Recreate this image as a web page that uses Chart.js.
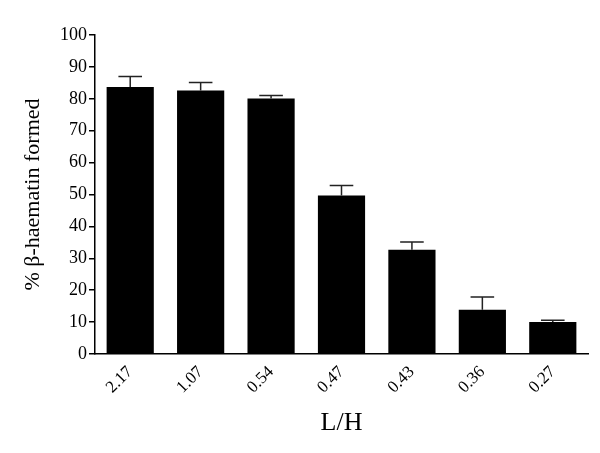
<!DOCTYPE html>
<html>
<head>
<meta charset="utf-8">
<script src="https://cdn.jsdelivr.net/npm/chart.js@4"></script>
<style>
  html, body { margin: 0; padding: 0; background: #fff; }
  #wrap { width: 600px; height: 453px; }
</style>
</head>
<body>
<div id="wrap"><canvas id="haematinChart" width="600" height="453"></canvas></div>
<script>
const categories = ['2.17', '1.07', '0.54', '0.47', '0.43', '0.36', '0.27'];
const formed = [83.7, 82.6, 80.1, 49.7, 32.7, 13.9, 10.0];
const errorUp = [3.3, 2.5, 0.9, 3.1, 2.4, 4.0, 0.6];
const yTicks = [0, 10, 20, 30, 40, 50, 60, 70, 80, 90, 100];

const serif = "'Liberation Serif', 'Times New Roman', Times, serif";

// draws the upward error bars with a cap
const errorBars = {
    id: 'errorBars',
    afterDatasetsDraw(chart) {
        const ctx = chart.ctx;
        const meta = chart.getDatasetMeta(0);
        const y = chart.scales.y;
        ctx.save();
        ctx.strokeStyle = '#222';
        ctx.lineWidth = 1.5;
        meta.data.forEach(function(bar, i) {
            const top = y.getPixelForValue(formed[i] + errorUp[i]);
            const capHalf = bar.width / 4;
            ctx.beginPath();
            ctx.moveTo(bar.x, bar.y);
            ctx.lineTo(bar.x, top);
            ctx.moveTo(bar.x - capHalf, top);
            ctx.lineTo(bar.x + capHalf, top);
            ctx.stroke();
        });
        ctx.restore();
    }
};

function drawChart() {
    const ctx = document.getElementById('haematinChart').getContext('2d');
    new Chart(ctx, {
        type: 'bar',
        data: {
            labels: categories,
            datasets: [{
                label: '% β-haematin formed',
                data: formed,
                backgroundColor: '#000',
                borderWidth: 0,
                categoryPercentage: 1.0,
                barPercentage: 0.67
            }]
        },
        options: {
            responsive: false,
            animation: false,
            layout: { padding: { top: 35, right: 12, left: 0, bottom: 0 } },
            plugins: {
                legend: { display: false },
                tooltip: { enabled: false }
            },
            scales: {
                x: {
                    grid: { display: false, drawTicks: false },
                    border: { display: true, color: '#000', width: 1.5 },
                    ticks: {
                        color: '#000',
                        font: { family: serif, size: 17 },
                        minRotation: 45,
                        maxRotation: 45,
                        padding: 8
                    },
                    title: {
                        display: true,
                        text: 'L/H',
                        color: '#000',
                        font: { family: serif, size: 26 },
                        padding: { top: 2, bottom: 14 }
                    },
                    afterFit(scale) { scale.height = 99; }
                },
                y: {
                    min: 0,
                    max: 100,
                    afterBuildTicks(scale) {
                        scale.ticks = yTicks.map(v => ({ value: v }));
                    },
                    grid: { drawOnChartArea: false, drawTicks: true, tickLength: 6, color: '#000', lineWidth: 1.5 },
                    border: { display: true, color: '#000', width: 1.5 },
                    ticks: {
                        color: '#000',
                        font: { family: serif, size: 18 },
                        padding: 2
                    },
                    title: {
                        display: true,
                        text: '% β-haematin formed',
                        color: '#000',
                        font: { family: serif, size: 22 },
                        padding: { top: 20, bottom: 4 }
                    },
                    afterFit(scale) { scale.width = 95; }
                }
            }
        },
        plugins: [errorBars]
    });
}

document.fonts.load('18px "Liberation Serif"').then(drawChart, drawChart);
</script>
</body>
</html>
